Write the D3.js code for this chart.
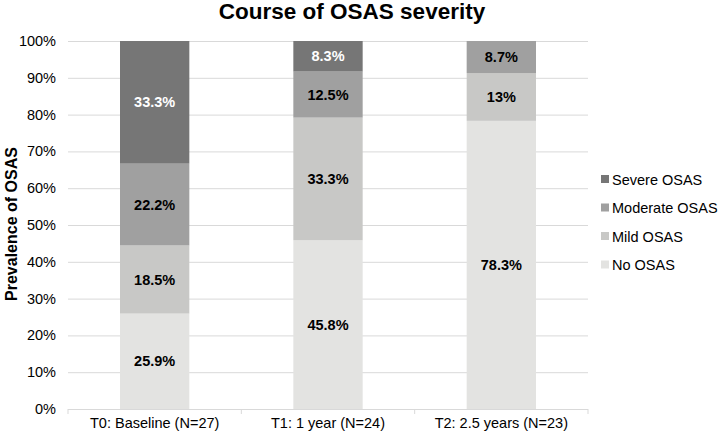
<!DOCTYPE html>
<html>
<head>
<meta charset="utf-8">
<script src="https://cdn.jsdelivr.net/npm/d3@7"></script>
<style>
  body { margin: 0; background: #fff; }
  text { font-family: Arial, "Liberation Sans", sans-serif; }
</style>
</head>
<body>
<svg id="chart" width="720" height="436"></svg>
<script>
// data
var categories = ['T0: Baseline (N=27)', 'T1: 1 year (N=24)', 'T2: 2.5 years (N=23)'];
var seriesNames = ['No OSAS', 'Mild OSAS', 'Moderate OSAS', 'Severe OSAS'];
var noOsas = [25.9, 45.8, 78.3];
var mildOsas = [18.5, 33.3, 13];
var moderateOsas = [22.2, 12.5, 8.7];
var severeOsas = [33.3, 8.3, 0];
var yTicks = [0, 0.1, 0.2, 0.3, 0.4, 0.5, 0.6, 0.7, 0.8, 0.9, 1];

var colors = ['#e3e3e1', '#c8c8c6', '#a0a0a0', '#767676'];
var labelColors = ['#000', '#000', '#000', '#fff'];

var rows = categories.map(function (c, i) {
    return { cat: c, 'No OSAS': noOsas[i], 'Mild OSAS': mildOsas[i], 'Moderate OSAS': moderateOsas[i], 'Severe OSAS': severeOsas[i] };
});

var stacked = d3.stack().keys(seriesNames).offset(d3.stackOffsetExpand)(rows);

var svg = d3.select('#chart');
var plotLeft = 68, plotRight = 588, plotTop = 41, plotBottom = 409;

var x = d3.scaleBand().domain(categories).range([plotLeft, plotRight]).paddingInner(0.6).paddingOuter(0.3);
var y = d3.scaleLinear().domain([0, 1]).range([plotBottom, plotTop]);

// gridlines
svg.append('g').selectAll('line').data(yTicks.slice(1)).enter().append('line')
    .attr('x1', plotLeft).attr('x2', plotRight)
    .attr('y1', function (d) { return y(d) + 0.5; }).attr('y2', function (d) { return y(d) + 0.5; })
    .attr('stroke', '#d9d9d9').attr('stroke-width', 1);

// y axis labels
svg.append('g').selectAll('text').data(yTicks).enter().append('text')
    .attr('x', 56).attr('y', function (d) { return y(d) + 5; })
    .attr('text-anchor', 'end').attr('font-size', '14.5px').attr('fill', '#000')
    .text(function (d) { return Math.round(d * 100) + '%'; });

// bars
var groups = svg.append('g').selectAll('g').data(stacked).enter().append('g')
    .attr('fill', function (d, i) { return colors[i]; });

groups.selectAll('rect').data(function (d) { return d; }).enter().append('rect')
    .attr('x', function (d) { return x(d.data.cat); })
    .attr('width', x.bandwidth())
    .attr('y', function (d) { return y(d[1]); })
    .attr('height', function (d) { return y(d[0]) - y(d[1]); });

// value labels
stacked.forEach(function (s, si) {
    s.forEach(function (d) {
        var v = d.data[s.key];
        if (!v) { return; }
        svg.append('text')
            .attr('x', x(d.data.cat) + x.bandwidth() / 2)
            .attr('y', (y(d[0]) + y(d[1])) / 2 + 5)
            .attr('text-anchor', 'middle')
            .attr('font-size', '14.5px').attr('font-weight', 'bold')
            .attr('fill', labelColors[si])
            .text(v + '%');
    });
});

// x axis
svg.append('line').attr('x1', plotLeft).attr('x2', plotRight).attr('y1', plotBottom + 0.5).attr('y2', plotBottom + 0.5)
    .attr('stroke', '#d9d9d9');
var edges = [plotLeft].concat(categories.map(function (c) { return x(c) + x.bandwidth() / 2 + x.step() / 2; }));
svg.append('g').selectAll('line').data(edges).enter().append('line')
    .attr('x1', function (d) { return d; }).attr('x2', function (d) { return d; })
    .attr('y1', plotBottom).attr('y2', plotBottom + 5)
    .attr('stroke', '#d9d9d9');

svg.append('g').selectAll('text').data(categories).enter().append('text')
    .attr('x', function (d) { return x(d) + x.bandwidth() / 2; })
    .attr('y', 428)
    .attr('text-anchor', 'middle').attr('font-size', '14.5px').attr('fill', '#000')
    .text(function (d) { return d; });

// title
svg.append('text').attr('x', 352).attr('y', 19)
    .attr('text-anchor', 'middle').attr('font-size', '22.5px').attr('font-weight', 'bold')
    .text('Course of OSAS severity');

// y title
svg.append('text')
    .attr('transform', 'translate(17,' + 224 + ') rotate(-90)')
    .attr('text-anchor', 'middle').attr('font-size', '16px').attr('font-weight', 'bold')
    .text('Prevalence of OSAS');

// legend
var legendOrder = seriesNames.slice().reverse();
var legend = svg.append('g').selectAll('g').data(legendOrder).enter().append('g')
    .attr('transform', function (d, i) { return 'translate(601,' + (179 + i * 28.5) + ')'; });
legend.append('rect').attr('x', 0).attr('y', -4).attr('width', 8).attr('height', 8)
    .attr('fill', function (d) { return colors[seriesNames.indexOf(d)]; });
legend.append('text').attr('x', 11).attr('y', 5.5).attr('font-size', '14.5px').attr('fill', '#000')
    .text(function (d) { return d; });
</script>
</body>
</html>
